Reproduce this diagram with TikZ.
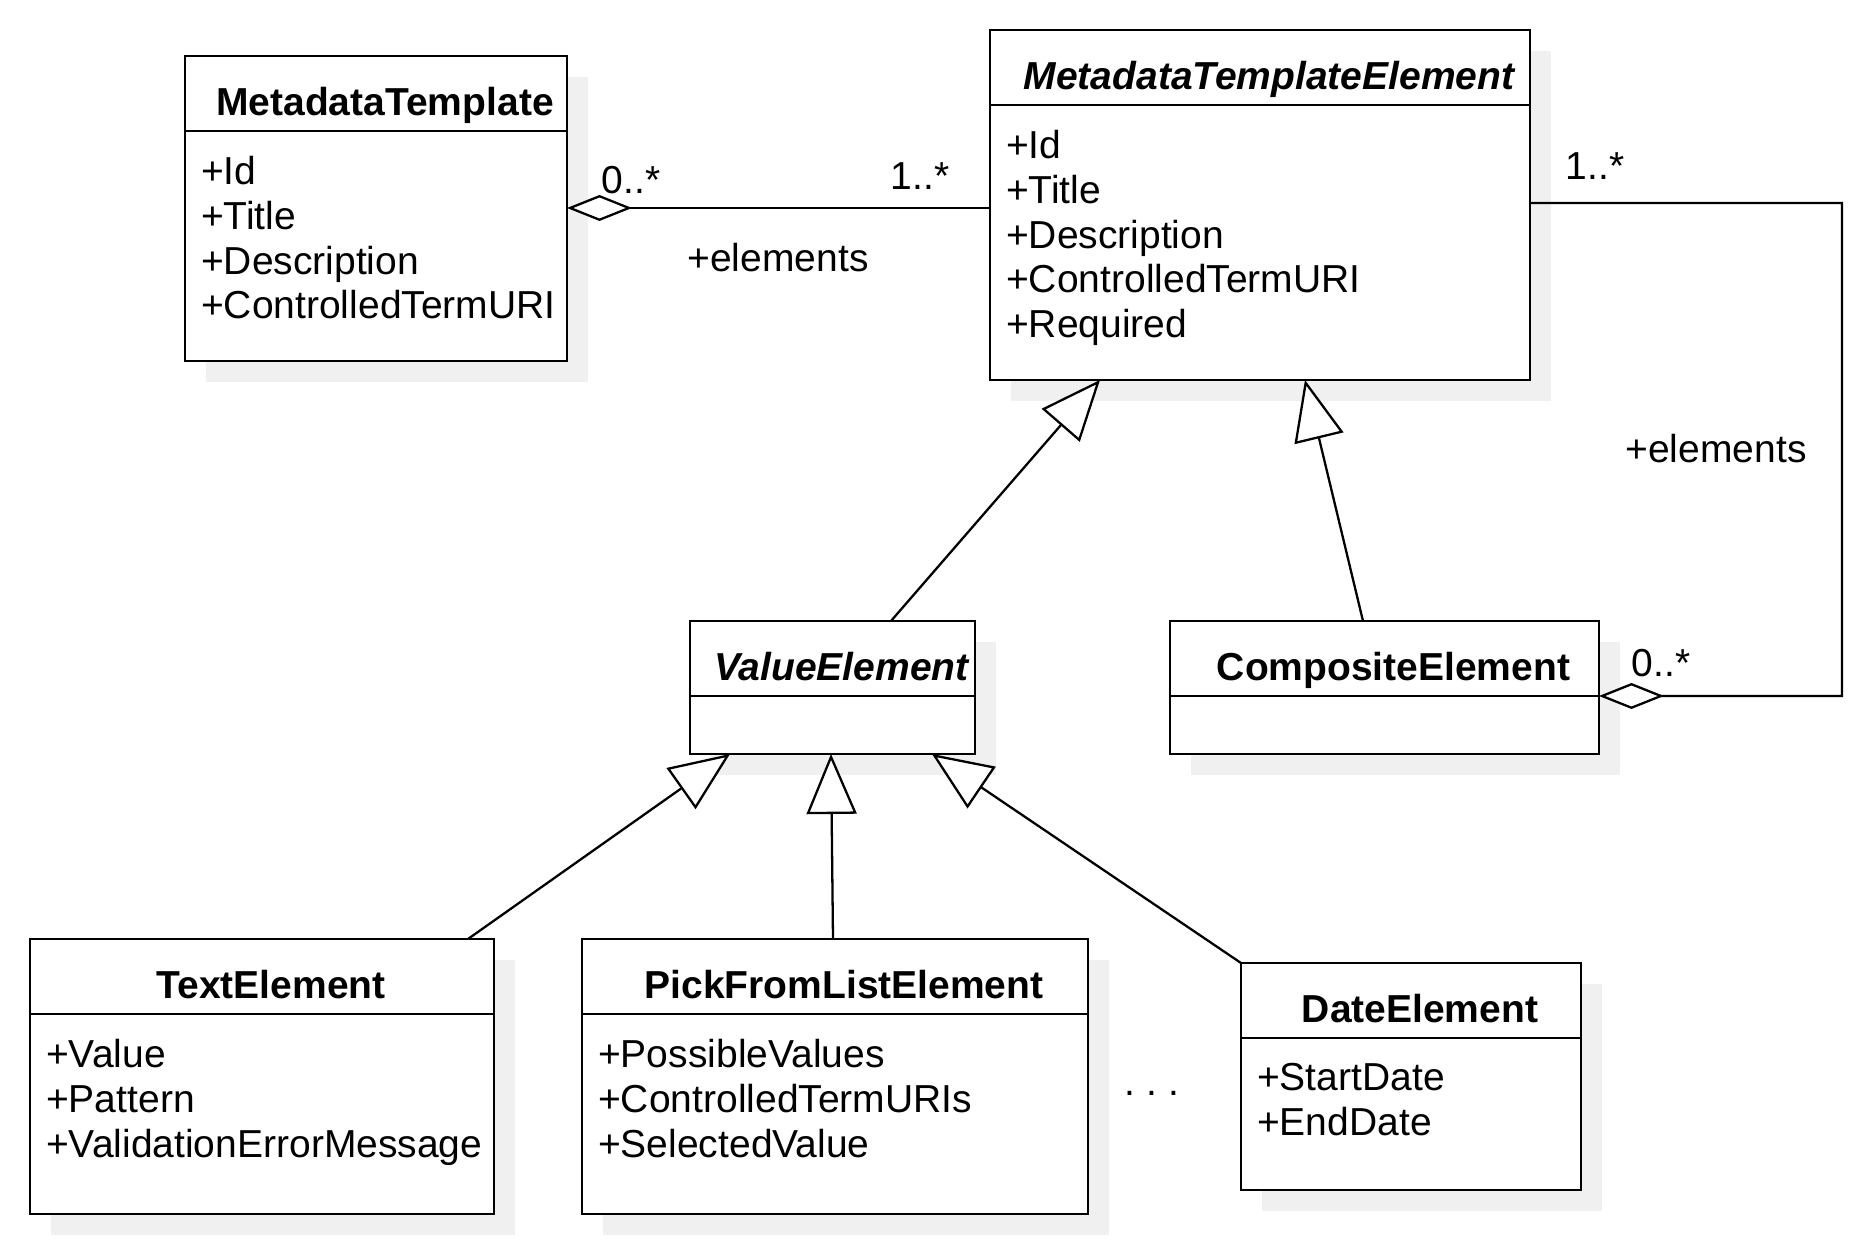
\documentclass[tikz,border=0pt]{standalone}
\usepackage{fontspec}
\setmainfont{Liberation Sans}
\usetikzlibrary{positioning,arrows.meta,shadows}

\newcommand{\umlfont}{\fontsize{11.1}{12.7}\selectfont}

\begin{document}
\begin{tikzpicture}[line width=0.65pt]
  \tikzset{boxshadow/.style={drop shadow={shadow xshift=0.21cm, shadow yshift=-0.21cm, fill=black!6, opacity=1}},
    classname/.style={rectangle, draw, fill=white, boxshadow, anchor=north west, inner sep=0pt, outer sep=0pt, minimum height=0.75cm, text height=0.44cm, text depth=0pt, font=\umlfont\bfseries, execute at begin node=\hspace*{0.18cm}},
    classbody/.style={rectangle, draw, fill=white, boxshadow, inner sep=0pt, outer sep=0pt},
    attrs/.style={anchor=north west, align=left, inner sep=0pt, font=\umlfont},
    mult/.style={inner sep=0pt, font=\umlfont},
    inherit/.style={-{Triangle[length=0.6cm, width=0.5cm, fill=white]}},
    aggr/.style={{Diamond[length=0.65cm, width=0.26cm, fill=white]}-}}
  \useasboundingbox (0,0) rectangle (18.75,-12.45);

  % classes
  \node[classname, minimum width=3.82cm] (tmpl) at (1.85,-0.56) {MetadataTemplate};
  \node[classbody, minimum width=3.82cm, minimum height=2.30cm, below=0pt of tmpl] (tmplbody) {};
  \node[attrs] (tmplattrs) at ([shift={(0.15,-0.245)}]tmplbody.north west) {+Id\\+Title\\+Description\\+ControlledTermURI};

  \node[classname, minimum width=5.40cm] (elem) at (9.90,-0.30) {\itshape MetadataTemplateElement};
  \node[classbody, minimum width=5.40cm, minimum height=2.75cm, below=0pt of elem] (elembody) {};
  \node[attrs] (elemattrs) at ([shift={(0.15,-0.245)}]elembody.north west) {+Id\\+Title\\+Description\\+ControlledTermURI\\+Required};

  \node[classname, minimum width=2.85cm] (value) at (6.90,-6.21) {\itshape ValueElement};
  \node[classbody, minimum width=2.85cm, minimum height=0.58cm, below=0pt of value] (valuebody) {};

  \node[classname, minimum width=4.29cm] (composite) at (11.70,-6.21) {CompositeElement};
  \node[classbody, minimum width=4.29cm, minimum height=0.58cm, below=0pt of composite] (compositebody) {};

  \node[classname, minimum width=4.64cm] (text) at (0.30,-9.39) {TextElement};
  \node[classbody, minimum width=4.64cm, minimum height=2.00cm, below=0pt of text] (textbody) {};
  \node[attrs] (textattrs) at ([shift={(0.15,-0.245)}]textbody.north west) {+Value\\+Pattern\\+ValidationErrorMessage};

  \node[classname, minimum width=5.06cm] (pick) at (5.82,-9.39) {PickFromListElement};
  \node[classbody, minimum width=5.06cm, minimum height=2.00cm, below=0pt of pick] (pickbody) {};
  \node[attrs] (pickattrs) at ([shift={(0.15,-0.245)}]pickbody.north west) {+PossibleValues\\+ControlledTermURIs\\+SelectedValue};

  \node[classname, minimum width=3.40cm] (date) at (12.41,-9.63) {DateElement};
  \node[classbody, minimum width=3.40cm, minimum height=1.52cm, below=0pt of date] (datebody) {};
  \node[attrs] (dateattrs) at ([shift={(0.15,-0.245)}]datebody.north west) {+StartDate\\+EndDate};

  \node[mult] (more) at (11.52,-10.93) {.\ .\ .};

  % associations
  \draw[aggr] ([yshift=-0.77cm]tmplbody.north east) -- ([yshift=-0.77cm]tmplbody.north east -| elembody.west);
  \node[mult] (tmplmult) at (6.31,-1.80) {0..*};
  \node[mult] (elemmult) at (9.20,-1.76) {1..*};
  \node[mult] (tmplrole) at (7.78,-2.58) {+elements};

  \coordinate (loop) at (18.42,-2.03);
  \draw[aggr] (compositebody.north east) -| (loop) -- ([yshift=-0.98cm]elembody.north east);
  \node[mult] (loopmult) at (15.95,-1.66) {1..*};
  \node[mult] (looprole) at (17.16,-4.49) {+elements};
  \node[mult] (compmult) at (16.61,-6.63) {0..*};

  % generalizations
  \draw[inherit] ([xshift=2.01cm]value.north west) -- ([xshift=1.10cm]elembody.south west);
  \draw[inherit] ([xshift=1.93cm]composite.north west) -- ([xshift=3.15cm]elembody.south west);
  \draw[inherit] ([xshift=4.38cm]text.north west) -- ([xshift=0.40cm]valuebody.south west);
  \draw[inherit] ([xshift=2.51cm]pick.north west) -- ([xshift=1.41cm]valuebody.south west);
  \draw[inherit] (date.north west) -- ([xshift=2.42cm]valuebody.south west);
\end{tikzpicture}
\end{document}
